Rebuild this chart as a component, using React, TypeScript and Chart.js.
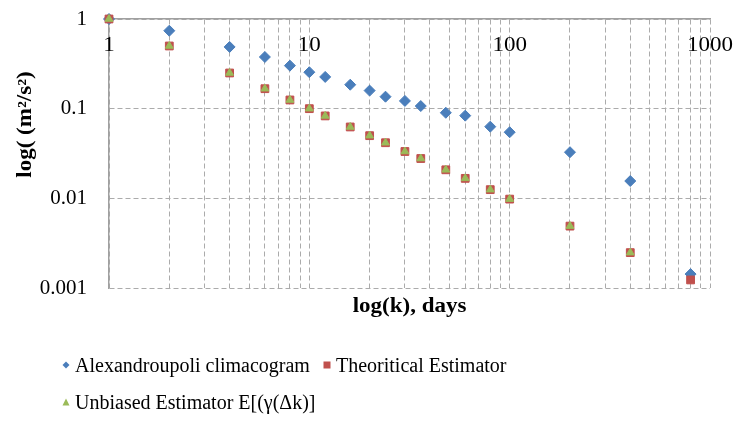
import React, { useEffect, useRef } from "react";
import { Chart, registerables } from "chart.js";

Chart.register(...registerables);

// ---- data ----
const kDays = [1, 2, 4, 6, 8, 10, 12, 16, 20, 24, 30, 36, 48, 60, 80, 100, 200, 400, 800];
const climacogram = [1, 0.74, 0.488, 0.377, 0.302, 0.255, 0.226, 0.185, 0.159, 0.136, 0.122, 0.107, 0.09, 0.0836, 0.063, 0.0546, 0.0327, 0.0156, 0.00143];
const theoretical = [1, 0.5, 0.25, 0.167, 0.125, 0.1, 0.083, 0.0625, 0.05, 0.0417, 0.0333, 0.0278, 0.0208, 0.0167, 0.0125, 0.0098, 0.0049, 0.00248, 0.00123];
const unbiased = [1, 0.5, 0.25, 0.167, 0.125, 0.1, 0.083, 0.0625, 0.05, 0.0417, 0.0333, 0.0278, 0.0208, 0.0167, 0.0125, 0.0098, 0.0049, 0.00248, null];
const xTickLabels = [1, 10, 100, 1000];
const yTickValues = [1, 0.1, 0.01, 0.001];
const yTickLabels = ["1", "0.1", "0.01", "0.001"];
const seriesNames = [
  "Alexandroupoli climacogram",
  "Theoritical Estimator",
  "Unbiased Estimator E[(\u03b3(\u0394k)]",
];
const xTitle = "log(k), days";
const yTitle = "log( (m\u00b2/s\u00b2)";

const BLUE = "#4A7EBB";
const RED = "#C0504D";
const GREEN = "#9BBB59";
const GRID = "#ABABAB";
const SERIF = '"Liberation Serif", "Times New Roman", serif';

const xGridValues: number[] = [];
[1, 10, 100].forEach((d) => {
  for (let m = 1; m <= 9; m++) xGridValues.push(d * m);
});
xGridValues.push(1000);

const toPoints = (vals: (number | null)[]) =>
  kDays
    .map((k, i) => ({ x: k, y: vals[i] }))
    .filter((p) => p.y !== null) as { x: number; y: number }[];

const STRETCH = 1.15;

const textPlugin = {
  id: "extraText",
  afterDraw(chart: any) {
    const { ctx, chartArea, scales } = chart;
    const put = (text: string, x: number, y: number, font: string, rotate = false) => {
      ctx.save();
      ctx.translate(x, y);
      if (rotate) ctx.rotate(-Math.PI / 2);
      ctx.scale(STRETCH, 1);
      ctx.font = font;
      ctx.fillStyle = "#000";
      ctx.textAlign = "center";
      ctx.textBaseline = "middle";
      ctx.fillText(text, 0, 0);
      ctx.restore();
    };
    xTickLabels.forEach((v) => {
      put(String(v), scales.x.getPixelForValue(v), chartArea.top + 27, `20px ${SERIF}`);
    });
    put(xTitle, (chartArea.left + chartArea.right) / 2, chartArea.bottom + 19, `bold 20px ${SERIF}`);
    put(yTitle, chartArea.left - 83, (chartArea.top + chartArea.bottom) / 2 - 29, `bold 20px ${SERIF}`, true);
  },
};

function Marker({ shape, color }: { shape: string; color: string }) {
  return (
    <svg width={10} height={10} style={{ display: "block" }}>
      {shape === "diamond" && <polygon points="5,1.5 8.5,5 5,8.5 1.5,5" fill={color} />}
      {shape === "square" && <rect x={1.5} y={1.5} width={7} height={7} fill={color} />}
      {shape === "triangle" && <polygon points="5,1.5 8.5,8.5 1.5,8.5" fill={color} />}
    </svg>
  );
}

const legendItems = [
  { name: seriesNames[0], color: BLUE, shape: "diamond" },
  { name: seriesNames[1], color: RED, shape: "square" },
  { name: seriesNames[2], color: GREEN, shape: "triangle" },
];
const legendSlots = [
  { left: 61, top: 353 },
  { left: 322, top: 353 },
  { left: 61, top: 390 },
];

export default function App() {
  const canvasRef = useRef<HTMLCanvasElement | null>(null);

  useEffect(() => {
    if (!canvasRef.current) return;
    const chart = new Chart(canvasRef.current, {
      type: "scatter",
      data: {
        datasets: [
          {
            label: seriesNames[0],
            data: toPoints(climacogram),
            pointStyle: "rectRot",
            pointRadius: 5.5,
            backgroundColor: BLUE,
            borderColor: BLUE,
            borderWidth: 1,
            order: 3,
            clip: false,
          },
          {
            label: seriesNames[1],
            data: toPoints(theoretical),
            pointStyle: "rect",
            pointRadius: 5.5,
            backgroundColor: RED,
            borderColor: RED,
            borderWidth: 1,
            order: 2,
            clip: false,
          },
          {
            label: seriesNames[2],
            data: toPoints(unbiased),
            pointStyle: "triangle",
            pointRadius: 4.5,
            backgroundColor: GREEN,
            borderColor: GREEN,
            borderWidth: 1,
            order: 1,
            clip: false,
          },
        ],
      },
      options: {
        responsive: false,
        animation: false,
        devicePixelRatio: 1,
        layout: { padding: { left: 0, top: 19, right: 26, bottom: 133 } },
        plugins: { legend: { display: false }, tooltip: { enabled: false } },
        scales: {
          x: {
            type: "logarithmic",
            position: "top",
            min: 1,
            max: 1000,
            afterBuildTicks: (s: any) => {
              s.ticks = xGridValues.map((v) => ({ value: v }));
            },
            afterFit: (s: any) => {
              s.height = 0;
              s.paddingLeft = 0;
              s.paddingRight = 0;
            },
            ticks: { display: false },
            grid: { color: GRID, lineWidth: 1, drawTicks: false },
            border: { display: true, color: "#A0A0A0", width: 1.5, dash: [5, 3] },
          },
          y: {
            type: "logarithmic",
            position: "left",
            min: 0.001,
            max: 1,
            afterBuildTicks: (s: any) => {
              s.ticks = yTickValues.map((v) => ({ value: v }));
            },
            afterFit: (s: any) => {
              s.width = 109;
              s.paddingTop = 0;
              s.paddingBottom = 0;
            },
            ticks: {
              callback: (v: any) => yTickLabels[yTickValues.indexOf(Number(v))],
              font: { family: SERIF, size: 21 },
              color: "#000",
              padding: 22,
              autoSkip: false,
            },
            grid: { color: GRID, lineWidth: 1, drawTicks: false },
            border: { display: true, color: "#A0A0A0", width: 1.5, dash: [5, 3] },
          },
        },
      },
      plugins: [textPlugin],
    } as any);
    return () => chart.destroy();
  }, []);

  return (
    <div
      style={{
        position: "fixed",
        left: 0,
        top: 0,
        width: 736,
        height: 421,
        background: "#fff",
        overflow: "hidden",
      }}
    >
      <canvas
        ref={canvasRef}
        width={736}
        height={421}
        style={{ position: "absolute", left: 0, top: 0, width: 736, height: 421 }}
      />
      {legendItems.map((it, i) => (
        <div
          key={i}
          style={{
            position: "absolute",
            left: legendSlots[i].left,
            top: legendSlots[i].top,
            display: "flex",
            alignItems: "center",
            height: 24,
            whiteSpace: "nowrap",
            fontFamily: SERIF,
            fontSize: 20,
            color: "#000",
          }}
        >
          <Marker shape={it.shape} color={it.color} />
          <span style={{ marginLeft: 4 }}>{it.name}</span>
        </div>
      ))}
    </div>
  );
}
